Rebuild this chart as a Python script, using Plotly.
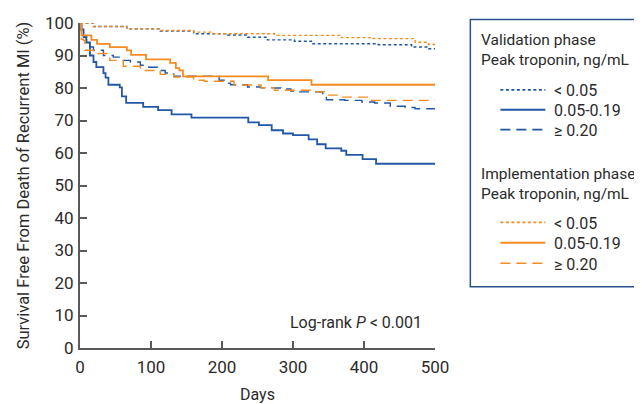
import plotly.graph_objects as go

# ---------------- data ----------------
val_lo_days = [0, 19, 66, 113, 160, 208, 236, 264, 302, 326, 420, 467, 491, 500]
val_lo_surv = [100, 98.9, 98.2, 97.5, 96.7, 96.3, 95.6, 94.8, 94.4, 93.6, 93.3, 92.6, 92.1, 92.1]

val_mid_days = [0, 2, 5, 9, 14, 19, 23, 33, 36, 40, 56, 59, 65, 89, 110, 129, 157,
                237, 252, 270, 286, 300, 322, 334, 346, 368, 375, 398, 417, 500]
val_mid_surv = [100, 98, 96, 94, 90.0, 88.0, 86.4, 84.6, 83.2, 81.0, 80.2, 77.4, 75.4, 74.2, 73.2, 71.9, 70.9,
                69.4, 68.6, 67.0, 66.0, 65.5, 64.2, 62.7, 61.4, 60.7, 59.4, 58.1, 56.7, 56.7]

val_hi_days = [0, 2, 5, 9, 14, 19, 33, 47, 61, 71, 85, 97, 109, 120, 132, 196, 203, 212,
               236, 255, 274, 283, 297, 307, 342, 347, 373, 397, 415, 437, 458, 472, 500]
val_hi_surv = [100, 97, 95.6, 93.5, 92.6, 91.6, 90.0, 89.5, 88.5, 88.0, 87.0, 86.4, 85.4, 84.6, 83.6, 82.4, 81.5, 81.0,
               80.3, 80.1, 80.0, 79.7, 79.1, 78.8, 77.5, 76.4, 76.2, 75.7, 75.4, 74.4, 74.0, 73.6, 73.6]

imp_lo_days = [0, 19, 66, 113, 160, 184, 274, 368, 411, 472, 491, 500]
imp_lo_surv = [100, 98.9, 98.2, 97.7, 97.2, 96.7, 96.2, 95.5, 95.2, 94.1, 93.4, 93.4]

imp_mid_days = [0, 2, 16, 24, 42, 66, 72, 93, 127, 135, 140, 145, 265, 326, 500]
imp_mid_surv = [100, 96.2, 94.8, 93.6, 92.6, 91.6, 90.2, 88.8, 87.7, 86.1, 85.4, 83.6, 82.4, 81.0, 81.0]

imp_hi_days = [0, 2, 5, 7, 19, 42, 61, 85, 113, 132, 160, 175, 217, 255, 274, 330, 349, 368, 406, 500]
imp_hi_surv = [100, 95, 94.6, 91.6, 90.6, 88.5, 86.7, 85.4, 84.2, 83.4, 82.4, 82.1, 80.9, 80.1, 79.3, 78.8, 77.8, 77.2, 76.2, 76.2]

x_ticks = [0, 100, 200, 300, 400, 500]
y_ticks = [0, 10, 20, 30, 40, 50, 60, 70, 80, 90, 100]

group_titles = ["Validation phase<br>Peak troponin, ng/mL",
                "Implementation phase<br>Peak troponin, ng/mL"]
level_labels = ["&lt; 0.05", "0.05-0.19", "≥ 0.20"]

# ---------------- styling ----------------
FONT = "Roboto, Liberation Sans, Arial, sans-serif"
BLUE = "#2157a6"
ORANGE = "#f68b1f"
AXIS = "#5a5a5a"
TEXT = "#2b2b2b"

OFF = 8  # page body margin of the default html page
W, H = 642 - OFF, 404 - OFF
PW, PH = 354.7, 326
ML, MT = 80 - OFF, 22.5 - OFF
MR, MB = W - ML - PW, H - MT - PH


def px_x(p):
    # screen pixel -> paper coordinate
    return (p - OFF - ML) / PW


def px_y(p):
    return (MT + PH - (p - OFF)) / PH


styles = [
    dict(dash="3px,2.5px", width=1.4),
    dict(dash="solid", width=1.8),
    dict(dash="10px,6px", width=1.4),
]

series = [
    (val_lo_days, val_lo_surv, BLUE, 0, 0),
    (val_mid_days, val_mid_surv, BLUE, 1, 0),
    (val_hi_days, val_hi_surv, BLUE, 2, 0),
    (imp_lo_days, imp_lo_surv, ORANGE, 0, 1),
    (imp_mid_days, imp_mid_surv, ORANGE, 1, 1),
    (imp_hi_days, imp_hi_surv, ORANGE, 2, 1),
]

fig = go.Figure()
for xs, ys, col, lvl, grp in series:
    fig.add_trace(go.Scatter(
        x=xs, y=ys, mode="lines", line_shape="hv",
        line=dict(color=col, width=styles[lvl]["width"], dash=styles[lvl]["dash"]),
        showlegend=False, cliponaxis=False, hoverinfo="skip",
        name=f"{group_titles[grp]} {level_labels[lvl]}",
    ))

shapes = []
annotations = []

# legend box
shapes.append(dict(type="rect", xref="paper", yref="paper",
                   x0=px_x(470), x1=px_x(700), y0=px_y(287), y1=px_y(19),
                   line=dict(color="#2a4f8f", width=1.5), fillcolor="rgba(0,0,0,0)"))

group_title_y = [49.5, 183.5]
item_y = [[89.5, 109.5, 129.5], [222.5, 243, 263.5]]
for g, colr in enumerate([BLUE, ORANGE]):
    annotations.append(dict(xref="paper", yref="paper", x=px_x(479), y=px_y(group_title_y[g]),
                            xanchor="left", yanchor="middle", align="left",
                            text=group_titles[g], showarrow=False,
                            font=dict(family=FONT, size=15.5, color=TEXT)))
    for i in range(3):
        yy = px_y(item_y[g][i])
        shapes.append(dict(type="line", xref="paper", yref="paper",
                           x0=px_x(500), x1=px_x(545), y0=yy, y1=yy,
                           line=dict(color=colr, width=styles[i]["width"] + 0.3, dash=styles[i]["dash"])))
        annotations.append(dict(xref="paper", yref="paper", x=px_x(552), y=px_y(item_y[g][i] + 1),
                                xanchor="left", yanchor="middle", text=level_labels[i],
                                showarrow=False, font=dict(family=FONT, size=16, color=TEXT)))

annotations.append(dict(x=484, y=7.7, xref="x", yref="y", xanchor="right", yanchor="middle",
                        text="Log-rank <i>P</i> &lt; 0.001", showarrow=False,
                        font=dict(family=FONT, size=16, color=TEXT)))

fig.update_layout(
    width=W, height=H,
    margin=dict(l=ML, r=MR, t=MT, b=MB, pad=0, autoexpand=False),
    paper_bgcolor="white", plot_bgcolor="white",
    font=dict(family=FONT, size=16, color=TEXT),
    showlegend=False,
    shapes=shapes, annotations=annotations,
    xaxis=dict(range=[0, 500], tickvals=x_ticks, ticks="inside", ticklen=7, tickwidth=1.5,
               tickcolor=AXIS, showline=True, linecolor=AXIS, linewidth=2, showgrid=False,
               zeroline=False, tickfont=dict(family=FONT, size=17, color=TEXT),
               ticklabelstandoff=3,
               title=dict(text="Days", font=dict(family=FONT, size=16, color=TEXT), standoff=12)),
    yaxis=dict(range=[0, 100], tickvals=y_ticks, ticks="inside", ticklen=7, tickwidth=1.5,
               tickcolor=AXIS, showline=True, linecolor=AXIS, linewidth=2, showgrid=False,
               zeroline=False, tickfont=dict(family=FONT, size=17, color=TEXT),
               ticklabelstandoff=1,
               title=dict(text="Survival Free From Death of Recurrent MI (%)",
                          font=dict(family=FONT, size=16.5, color=TEXT), standoff=11)),
)

fig.write_html("out.html")
